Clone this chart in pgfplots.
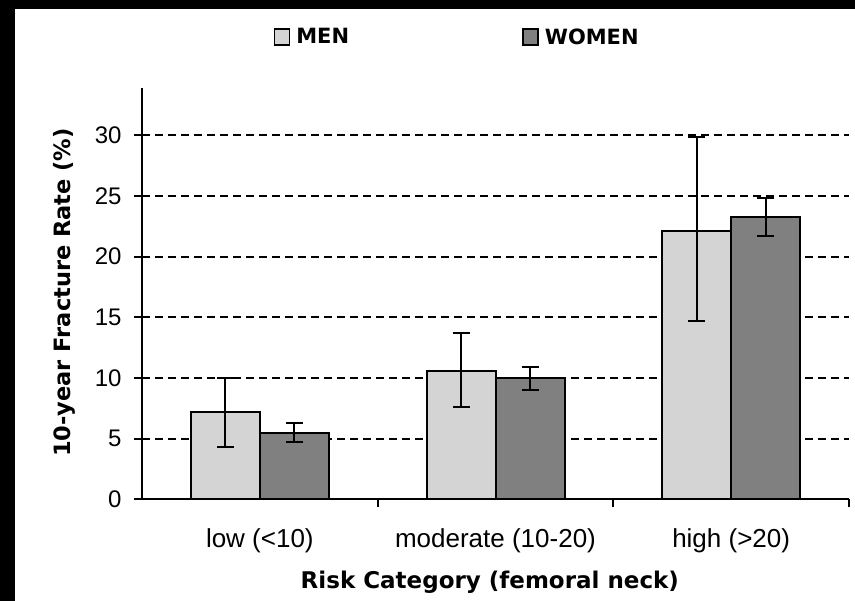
\documentclass[border=0pt]{standalone}
\usepackage{pgfplots}
\pgfplotsset{compat=1.18}
\usepackage{fontspec}
\setmainfont{Liberation Sans}
\newfontfamily\heavy{DejaVu Sans}
\definecolor{menfill}{HTML}{D4D4D4}
\definecolor{womenfill}{HTML}{808080}
\begin{document}
\begin{tikzpicture}[x=1pt,y=1pt]
\fill[black] (0,0) rectangle (855,601);
\fill[white] (15,0) rectangle (855,592);
\begin{axis}[
  at={(142pt,101.5pt)}, anchor=south west,
  scale only axis, width=707pt, height=411.5pt,
  xmin=-0.5, xmax=2.5, ymin=0, ymax=33.9,
  axis lines=left,
  axis line style={-, line width=2pt, black},
  ybar=0pt, bar width=69pt,
  ytick={0,5,10,15,20,25,30},
  ymajorgrids,
  major grid style={black, line width=2pt, dash pattern=on 8pt off 5pt},
  tick align=outside,
  major tick length=8pt,
  tick style={black, line width=2pt},
  xtick={0.5,1.5,2.5}, xticklabels={},
  extra x ticks={0,1,2},
  extra x tick labels={low (<10), moderate (10-20), high (>20)},
  extra x tick style={major tick length=0pt},
  xticklabel style={font=\fontsize{26}{30}\selectfont, yshift=-26pt},
  yticklabel style={font=\fontsize{24}{28}\selectfont, xshift=-9pt},
  /pgf/number format/assume math mode=true,
  xlabel={Risk Category (femoral neck)},
  ylabel={10-year Fracture Rate (\%)},
  xlabel style={font=\heavy\bfseries\fontsize{23}{27}\selectfont, at={(axis description cs:0.492,-0.200)}, anchor=center},
  ylabel style={font=\heavy\bfseries\fontsize{22.5}{27}\selectfont, at={(axis description cs:-0.110,0.503)}, anchor=center},
  legend columns=2,
  legend style={draw=none, fill=none, at={(axis description cs:0.1815,1.124)}, anchor=west,
    font=\heavy\bfseries\fontsize{21}{25}\selectfont,
    /tikz/every even column/.append style={column sep=171pt}},
  error bars/y dir=both, error bars/y explicit,
  error bars/error bar style={line width=2pt, black},
  error bars/error mark options={line width=2pt, black, mark size=8.5pt, rotate=90},
]
\addplot[fill=menfill, draw=black, line width=2pt,
  legend image code/.code={\path[draw=none, fill=none] (0pt,0pt) -- (20pt,0pt);\draw[fill=menfill, draw=black, line width=1.5pt] (0pt,-8pt) rectangle (15pt,8pt);}]
coordinates {
  (0,7.24)  += (0,2.74) -= (0,2.94)
  (1,10.58) += (0,3.10) -= (0,2.99)
  (2,22.10) += (0,7.80) -= (0,7.40)
};
\addlegendentry{MEN}
\addplot[fill=womenfill, draw=black, line width=2pt,
  legend image code/.code={\path[draw=none, fill=none] (0pt,0pt) -- (20pt,0pt);\draw[fill=womenfill, draw=black, line width=1.5pt] (0pt,-8pt) rectangle (15pt,8pt);}]
coordinates {
  (0,5.47)  += (0,0.83) -= (0,0.77)
  (1,9.97)  += (0,0.96) -= (0,0.96)
  (2,23.30) += (0,1.50) -= (0,1.60)
};
\addlegendentry{WOMEN}
\end{axis}
\pgfresetboundingbox
\useasboundingbox (0,0) rectangle (855,601);
\end{tikzpicture}
\end{document}
